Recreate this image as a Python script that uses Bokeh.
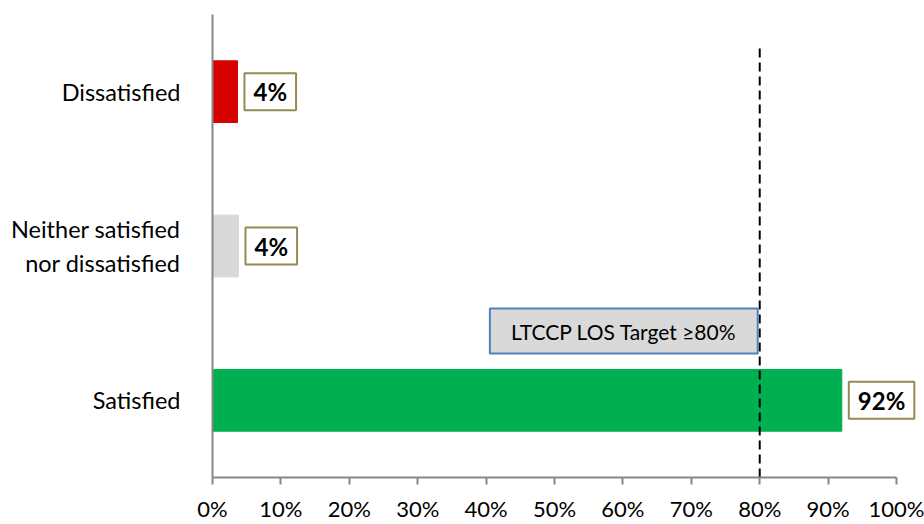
from bokeh.plotting import figure
from bokeh.models import ColumnDataSource, NumeralTickFormatter, FixedTicker
from bokeh.core.properties import value
from bokeh.embed import file_html
from bokeh.resources import INLINE

categories = ["Satisfied", "Neither satisfied\nnor dissatisfied", "Dissatisfied"]
values = [0.92, 0.038, 0.0365]
value_labels = ["92%", "4%", "4%"]
colors = ["#00B050", "#D9D9D9", "#D90000"]
target = 0.80
target_text = "LTCCP LOS Target \u226580%"
x_ticks = [0, 0.1, 0.2, 0.3, 0.4, 0.5, 0.6, 0.7, 0.8, 0.9, 1.0]

FONT = "Lato"
ypos = list(range(len(categories)))

src = ColumnDataSource(dict(y=ypos, v=values, c=colors, lab=value_labels))

p = figure(width=924, height=524, output_backend="svg", toolbar_location=None,
           x_range=(0, 1.0292), y_range=(-0.5, 2.5),
           min_border_left=212, min_border_right=8, min_border_top=14, min_border_bottom=47)
p.outline_line_color = None
p.grid.visible = False
p.background_fill_color = "white"
p.border_fill_color = "white"

p.hbar(y="y", right="v", left=0, height=0.4, color="c", source=src)

# target dashed line
p.segment(x0=[target], y0=[-0.5], x1=[target], y1=[2.287], line_color="black",
          line_width=2, line_dash="9 5")

p.text(x="v", y="y", text="lab", source=src, x_offset=7, y_offset=0,
       text_baseline="middle", text_align="left",
       text_font=value(FONT), text_font_style="bold", text_font_size="24px",
       text_color="black", background_fill_color="white",
       border_line_color="#948A54", border_line_width=2,
       padding=dict(left=9, right=9, top=4, bottom=4))

p.text(x=[target], y=[0.449], x_offset=-2, text=[target_text], text_align="right",
       text_baseline="middle", text_font=value(FONT), text_font_size="21px",
       text_color="black", background_fill_color="#D9D9D9",
       border_line_color="#4F81BD", border_line_width=2,
       padding=dict(left=21, right=21, top=10, bottom=10))

p.xaxis.ticker = FixedTicker(ticks=x_ticks)
p.xaxis.bounds = (0, 1)
p.xaxis.formatter = NumeralTickFormatter(format="0%")
p.xaxis.major_label_text_font = FONT
p.xaxis.major_label_text_font_size = "22px"
p.xaxis.major_label_text_color = "black"
p.xaxis.major_label_text_line_height = 0.8
p.xaxis.major_label_standoff = 10
p.xaxis.axis_line_color = "#868686"
p.xaxis.axis_line_width = 2
p.xaxis.major_tick_line_color = "#868686"
p.xaxis.major_tick_line_width = 2
p.xaxis.major_tick_out = 7
p.xaxis.major_tick_in = 0
p.xaxis.minor_tick_line_color = None

p.yaxis.ticker = FixedTicker(ticks=ypos)
p.yaxis.major_label_overrides = {i: c for i, c in enumerate(categories)}
p.yaxis.major_label_text_font = FONT
p.yaxis.major_label_text_font_size = "23.5px"
p.yaxis.major_label_text_color = "black"
p.yaxis.major_label_standoff = 26
p.yaxis.axis_line_color = "#868686"
p.yaxis.axis_line_width = 2
p.yaxis.major_tick_line_color = None
p.yaxis.minor_tick_line_color = None

open("out.html", "w").write(file_html(p, INLINE))
